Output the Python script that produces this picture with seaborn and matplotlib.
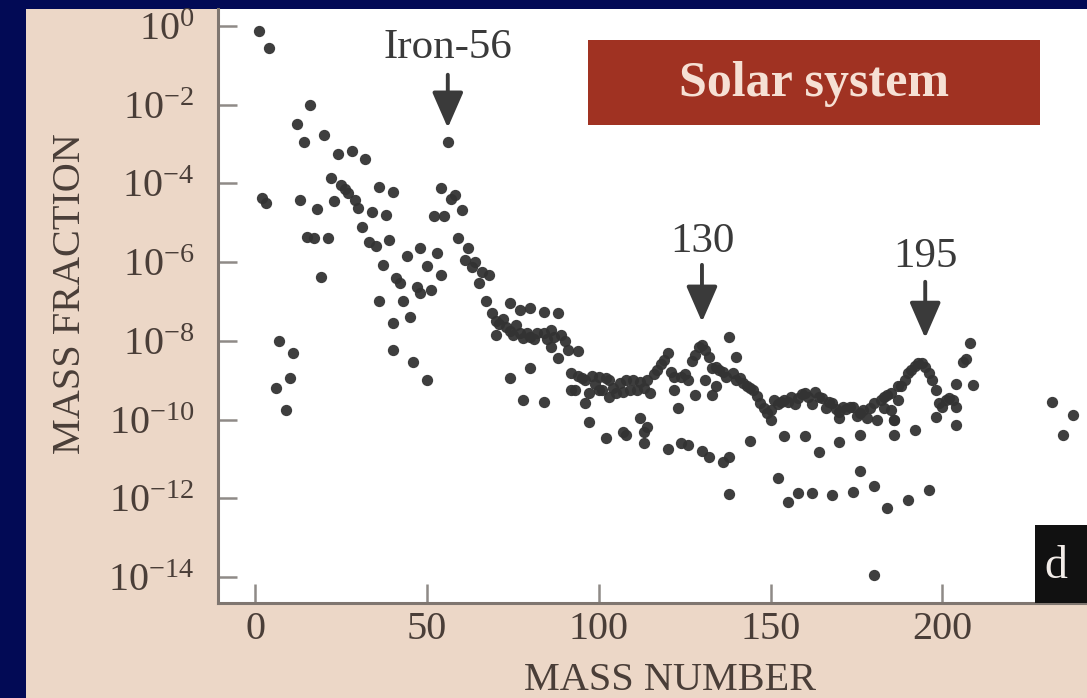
import numpy as np
import pandas as pd
import matplotlib
matplotlib.use("Agg")
import matplotlib.pyplot as plt
import seaborn as sns
from matplotlib.patches import Rectangle

# ---------------- data (mass number, log10 of mass fraction) ----------------
light_mass = [1, 2, 3, 4, 6, 7, 9, 10, 11, 12, 13, 14, 15, 16, 17, 18, 19, 20,
              21, 22, 23, 24, 25, 26, 27, 28, 29, 30, 31, 32, 33, 34, 35, 36,
              36, 37, 38, 39, 40, 40, 40, 41, 42, 43, 44, 45, 46, 47, 48, 48,
              50, 50, 51, 53, 54]
light_logx = [-0.14, -4.38, -4.50, -0.57, -9.20, -8.00, -9.76, -8.95, -8.30,
              -2.50, -4.42, -2.94, -5.37, -2.00, -5.39, -4.66, -6.39, -2.77,
              -5.39, -3.87, -4.46, -3.25, -4.05, -4.15, -4.25, -3.17, -4.42,
              -4.63, -5.10, -3.39, -5.48, -4.72, -5.60, -4.08, -7.00, -6.07,
              -4.80, -5.44, -4.21, -7.55, -8.23, -6.41, -6.54, -7.00, -5.84,
              -7.39, -8.53, -6.62, -5.65, -6.79, -6.11, -8.99, -6.71, -5.78,
              -6.32]

iron_mass = [52, 54, 55, 56, 57, 58, 59, 60, 61, 62, 63, 64, 65, 66, 67, 68,
             69, 70, 70, 71, 72, 73, 74, 74, 75, 76, 77, 77, 78, 79, 80, 80,
             81, 82, 84, 84, 85, 86, 86, 87, 88, 88, 89, 90, 91]
iron_logx = [-4.84, -4.12, -4.84, -2.94, -4.40, -4.29, -5.39, -4.67, -5.95,
             -5.65, -6.12, -6.00, -6.54, -6.24, -7.00, -6.33, -7.30, -7.50,
             -7.85, -7.56, -7.45, -7.64, -7.05, -7.75, -7.85, -7.60, -7.81,
             -7.22, -7.93, -7.80, -7.17, -7.89, -7.95, -7.80, -7.26, -7.81,
             -7.95, -7.72, -8.15, -7.89, -7.30, -8.44, -7.85, -8.00, -8.23]

band_mass = [92, 92, 93, 94, 94, 95, 96, 97, 98, 99, 100, 100, 101, 102, 103,
             103, 104, 105, 106, 107, 108, 109, 110, 111, 112, 113, 114, 115,
             116, 117, 118, 119, 120, 121, 122, 122, 123, 124, 125, 126, 127,
             128, 128, 129, 130, 131, 131, 132, 133, 133, 134, 134, 135, 136,
             137, 138, 139, 140, 140, 141, 142, 143, 144, 145, 146, 147, 148,
             149, 150, 150, 151, 152, 153, 154, 155, 156, 157, 158, 159, 160,
             161, 162, 163, 164, 165, 166, 167, 168, 169, 170, 170, 171, 172,
             173, 174, 175, 176, 177, 178, 179, 180, 181, 182, 183, 183, 184,
             185, 185, 186, 187, 187, 188, 189, 190, 191, 192, 193, 194, 195,
             196, 197, 198, 198, 199, 200, 201, 202, 203, 204, 204]
band_logx = [-8.82, -9.25, -9.25, -8.27, -8.90, -8.95, -8.99, -9.33, -8.90,
             -9.10, -8.91, -9.25, -9.25, -8.95, -8.99, -9.42, -9.20, -9.33,
             -9.08, -9.30, -9.00, -9.25, -8.99, -9.25, -9.05, -9.20, -8.99,
             -9.33, -8.85, -8.74, -8.60, -8.49, -8.32, -8.80, -8.91, -9.25,
             -9.71, -8.91, -8.85, -8.99, -8.50, -8.36, -9.38, -8.15, -8.10,
             -8.23, -8.99, -8.40, -8.70, -9.38, -8.66, -9.16, -8.74, -8.80,
             -8.91, -7.89, -8.82, -8.40, -9.00, -8.95, -9.08, -9.16, -9.20,
             -9.25, -9.40, -9.59, -9.70, -9.84, -10.01, -9.75, -9.50, -9.60,
             -9.55, -9.50, -9.55, -9.42, -9.60, -9.45, -9.35, -9.33, -9.42,
             -9.60, -9.29, -9.42, -9.45, -9.70, -9.55, -9.59, -9.72, -9.80,
             -9.95, -9.67, -9.72, -9.68, -9.67, -9.90, -9.84, -9.76, -9.95,
             -9.70, -9.59, -10.01, -9.50, -9.42, -9.70, -9.38, -9.33, -9.76,
             -10.01, -9.16, -9.50, -9.16, -9.00, -8.82, -8.74, -8.65, -8.57,
             -8.57, -8.66, -8.82, -9.00, -9.25, -9.93, -9.59, -9.67, -9.50,
             -9.45, -9.50, -9.67, -10.14]

minor_mass = [74, 78, 80, 84, 96, 97, 102, 107, 108, 112, 113, 113, 114, 120,
              124, 126, 130, 132, 136, 138, 138, 144, 152, 154, 155, 158, 160,
              162, 164, 168, 170, 174, 176, 176, 180, 180, 184, 186, 186, 190,
              192, 196]
minor_logx = [-8.95, -9.50, -8.70, -9.55, -9.59, -10.05, -10.46, -10.31,
              -10.39, -9.95, -10.31, -10.60, -10.18, -10.75, -10.60, -10.65,
              -10.80, -10.95, -11.07, -10.94, -11.90, -10.54, -11.48, -10.43,
              -12.10, -11.87, -10.43, -11.87, -10.82, -11.92, -10.56, -11.83,
              -10.39, -11.30, -11.70, -13.95, -12.25, -10.39, -10.01, -12.04,
              -10.26, -11.79]

heavy_mass = [204, 206, 207, 208, 209, 232, 235, 238]
heavy_logx = [-9.10, -8.55, -8.45, -8.06, -9.12, -9.55, -10.39, -9.88]

x_ticks = [0, 50, 100, 150, 200]
y_tick_exponents = [0, -2, -4, -6, -8, -10, -12, -14]

peak_labels = ["Iron-56", "130", "195"]
peak_mass = [56, 130, 195]

# ---------------- styling ----------------
NAVY = "#020a55"
BEIGE = "#ecd7c7"
DOT = "#333333"
TXT = "#4a3e38"
ANN = "#3a3a3a"
RED = "#a03222"

sns.set_style("white")
plt.rcParams["font.family"] = ["Liberation Serif", "DejaVu Serif"]
plt.rcParams["mathtext.fontset"] = "custom"
plt.rcParams["mathtext.rm"] = "Liberation Serif"
plt.rcParams["mathtext.it"] = "Liberation Serif:italic"
plt.rcParams["mathtext.bf"] = "Liberation Serif:bold"

W, H = 1087, 698
fig = plt.figure(figsize=(W / 100, H / 100), dpi=100, facecolor=NAVY)
fig.add_artist(Rectangle((26 / W, 0), 1, (H - 9) / H, transform=fig.transFigure,
                         facecolor=BEIGE, edgecolor="none", zorder=-5))

ax = fig.add_axes([218 / W, (H - 603) / H, 1 - 218 / W, (603 - 9) / H])
ax.set_facecolor("white")

df = pd.DataFrame({
    "mass": light_mass + iron_mass + band_mass + minor_mass + heavy_mass,
    "logx": light_logx + iron_logx + band_logx + minor_logx + heavy_logx,
})
df["fraction"] = 10.0 ** df["logx"]

sns.scatterplot(data=df, x="mass", y="fraction", ax=ax, s=66, color=DOT,
                linewidth=0, alpha=0.95, legend=False, zorder=3)

ax.set_yscale("log")
ax.set_xlim(-10.9, 242.1)
ax.set_ylim(10 ** -14.66, 10 ** 0.43)
ax.set_xticks(x_ticks)
ax.set_yticks([10.0 ** e for e in y_tick_exponents])
ax.yaxis.set_minor_locator(matplotlib.ticker.NullLocator())

for s in ["top", "right"]:
    ax.spines[s].set_visible(False)
for s in ["left", "bottom"]:
    ax.spines[s].set_color("#7f7670")
    ax.spines[s].set_linewidth(2.2)

ax.tick_params(axis="both", which="major", direction="in", length=14,
               width=1.8, color="#8f8a87", labelsize=29, labelcolor=TXT,
               bottom=True, left=True, top=False, right=False)
ax.tick_params(axis="x", pad=6)
ax.tick_params(axis="y", pad=17)

ax.set_xlabel("MASS NUMBER", fontsize=29, color=TXT)
ax.xaxis.set_label_coords((670 - 218) / 869, -(662 - 603) / 594)
ax.set_ylabel("MASS FRACTION", fontsize=29, color=TXT)
ax.yaxis.set_label_coords((89 - 218) / 869, (603 - 294) / 594)

# peak annotations
arrow_tips = [-2.59, -7.52, -7.93]
arrow_tails = [-1.24, -6.07, -6.50]
label_pos = [-0.56, -5.49, -5.87]
for lab, m, tip, tail, ly in zip(peak_labels, peak_mass, arrow_tips, arrow_tails, label_pos):
    ax.annotate("", xy=(m, 10 ** tip), xytext=(m, 10 ** tail),
                arrowprops=dict(arrowstyle="-|>,head_length=0.55,head_width=0.24",
                                color=ANN, lw=2.8, mutation_scale=40,
                                shrinkA=0, shrinkB=0), zorder=4)
    ax.text(m, 10 ** ly, lab, ha="center", va="center", fontsize=31,
            color=ANN, zorder=4)

# title box
ax.add_patch(Rectangle(((588 - 218) / 869, (603 - 125) / 594), 452 / 869, 85 / 594,
                       transform=ax.transAxes, facecolor=RED, edgecolor="none",
                       zorder=5))
ax.text((814 - 218) / 869, (603 - 84) / 594, "Solar system", transform=ax.transAxes,
        ha="center", va="center", fontsize=36, fontweight="bold",
        color="#f6e0d4", zorder=6)

# partially visible black label box at lower right
ax.add_patch(Rectangle(((1035 - 218) / 869, 0), 0.2, 78 / 594, transform=ax.transAxes,
                       facecolor="#111111", edgecolor="none", zorder=5))
ax.text((1044 - 218) / 869, 36 / 594, "d", transform=ax.transAxes, ha="left",
        va="center", fontsize=33, color="#f2ece8", zorder=6)

fig.savefig("out.png", dpi=100, facecolor=NAVY)
